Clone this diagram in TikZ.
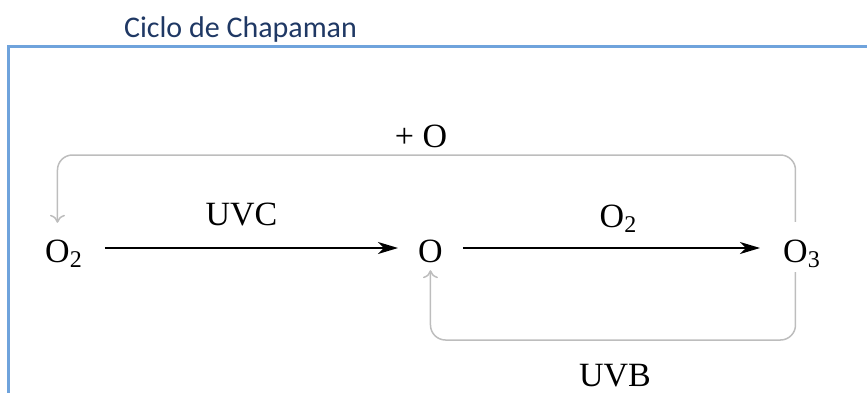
\documentclass[tikz,border=0pt]{standalone}
\usepackage{fontspec}
\setmainfont{Liberation Serif}
\newfontfamily\titlefont{Carlito}
\usetikzlibrary{arrows.meta}
\definecolor{titleblue}{HTML}{1F3864}
\definecolor{framec}{HTML}{6FA3DC}
\definecolor{loopgray}{HTML}{BDBDBD}
\newcommand{\chemsub}[1]{\rlap{\raisebox{-5pt}{\fontsize{24}{24}\selectfont #1}}}
\tikzset{
  species/.style={inner sep=0pt, anchor=base west, text height=28pt, text depth=0pt, font=\fontsize{34}{34}\selectfont},
  lbl/.style={inner sep=0pt, anchor=base, font=\fontsize{34}{34}\selectfont},
  mainarrow/.style={line width=1.4pt, black, -{Stealth[length=20pt,width=12pt,inset=6pt]}},
  looparrow/.style={line width=1.5pt, loopgray, rounded corners=15pt, -{To[length=8pt,width=15pt]}},
}
\begin{document}
\begin{tikzpicture}[x=1pt,y=1pt]
\useasboundingbox (0,0) rectangle (867,392);
% frame
\draw[framec, line width=2.2pt] (8.5,-5) -- (8.5,345.5) -- (872,345.5);
% title
\node[inner sep=0pt, anchor=base, font=\titlefont\fontsize{30}{30}\selectfont, text=titleblue] (title) at (240.5,355) {Ciclo de Chapaman};
% species
\node[species] (o2) at (45,130) {O\chemsub{2}};
\node[species] (o) at (418,130) {O};
\node[species] (o3) at (783,130) {O\chemsub{3}};
% labels
\node[lbl] (uvc) at (241.5,167) {UVC};
\node[lbl] (o2lbl) at (612,165) {O\chemsub{2}};
\node[lbl] (plus) at (421,245) {+ O};
\node[lbl] (uvb) at (615,6) {UVB};
% main arrows
\draw[mainarrow, shorten <=35pt, shorten >=20pt] (o2.east) -- (o.west);
\draw[mainarrow, shorten <=20pt, shorten >=23pt] (o.east) -- (o3.west);
% loops
\coordinate (top) at (0,237);
\coordinate (bot) at (0,52);
\draw[looparrow, shorten <=12pt, shorten >=11pt] (o3.north) -- (o3.north |- top) -- (o2.north |- top) -- (o2.north);
\draw[looparrow, shorten <=10pt, shorten >=8pt] (o3.south) -- (o3.south |- bot) -- (o.south |- bot) -- (o.south);
\end{tikzpicture}
\end{document}
